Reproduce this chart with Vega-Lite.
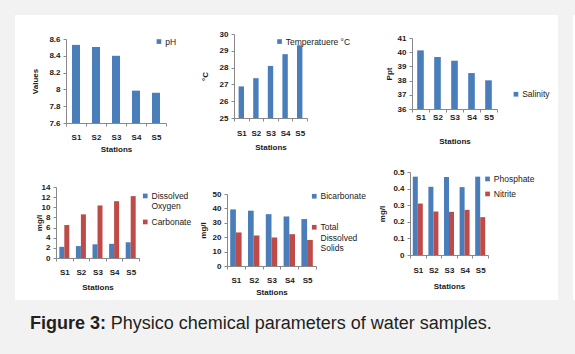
{
  "$schema": "https://vega.github.io/schema/vega-lite/v6.json",
  "padding": 0,
  "background": "white",
  "datasets": {
    "d": [
      {"panel": 1, "station": "S1", "param": "pH", "value": 8.53},
      {"panel": 1, "station": "S2", "param": "pH", "value": 8.505},
      {"panel": 1, "station": "S3", "param": "pH", "value": 8.40},
      {"panel": 1, "station": "S4", "param": "pH", "value": 7.985},
      {"panel": 1, "station": "S5", "param": "pH", "value": 7.96},
      {"panel": 2, "station": "S1", "param": "Temperatuere °C", "value": 26.88},
      {"panel": 2, "station": "S2", "param": "Temperatuere °C", "value": 27.37},
      {"panel": 2, "station": "S3", "param": "Temperatuere °C", "value": 28.1},
      {"panel": 2, "station": "S4", "param": "Temperatuere °C", "value": 28.8},
      {"panel": 2, "station": "S5", "param": "Temperatuere °C", "value": 29.33},
      {"panel": 3, "station": "S1", "param": "Salinity", "value": 40.13},
      {"panel": 3, "station": "S2", "param": "Salinity", "value": 39.66},
      {"panel": 3, "station": "S3", "param": "Salinity", "value": 39.4},
      {"panel": 3, "station": "S4", "param": "Salinity", "value": 38.53},
      {"panel": 3, "station": "S5", "param": "Salinity", "value": 38.02},
      {"panel": 4, "station": "S1", "param": "Dissolved Oxygen", "value": 2.2},
      {"panel": 4, "station": "S2", "param": "Dissolved Oxygen", "value": 2.35},
      {"panel": 4, "station": "S3", "param": "Dissolved Oxygen", "value": 2.7},
      {"panel": 4, "station": "S4", "param": "Dissolved Oxygen", "value": 2.8},
      {"panel": 4, "station": "S5", "param": "Dissolved Oxygen", "value": 3.1},
      {"panel": 4, "station": "S1", "param": "Carbonate", "value": 6.5},
      {"panel": 4, "station": "S2", "param": "Carbonate", "value": 8.6},
      {"panel": 4, "station": "S3", "param": "Carbonate", "value": 10.36},
      {"panel": 4, "station": "S4", "param": "Carbonate", "value": 11.2},
      {"panel": 4, "station": "S5", "param": "Carbonate", "value": 12.2},
      {"panel": 5, "station": "S1", "param": "Bicarbonate", "value": 39.3},
      {"panel": 5, "station": "S2", "param": "Bicarbonate", "value": 38.4},
      {"panel": 5, "station": "S3", "param": "Bicarbonate", "value": 36.0},
      {"panel": 5, "station": "S4", "param": "Bicarbonate", "value": 34.4},
      {"panel": 5, "station": "S5", "param": "Bicarbonate", "value": 32.6},
      {"panel": 5, "station": "S1", "param": "Total Dissolved Solids", "value": 23.3},
      {"panel": 5, "station": "S2", "param": "Total Dissolved Solids", "value": 21.2},
      {"panel": 5, "station": "S3", "param": "Total Dissolved Solids", "value": 19.8},
      {"panel": 5, "station": "S4", "param": "Total Dissolved Solids", "value": 22.1},
      {"panel": 5, "station": "S5", "param": "Total Dissolved Solids", "value": 18.1},
      {"panel": 6, "station": "S1", "param": "Phosphate", "value": 0.472},
      {"panel": 6, "station": "S2", "param": "Phosphate", "value": 0.411},
      {"panel": 6, "station": "S3", "param": "Phosphate", "value": 0.47},
      {"panel": 6, "station": "S4", "param": "Phosphate", "value": 0.409},
      {"panel": 6, "station": "S5", "param": "Phosphate", "value": 0.472},
      {"panel": 6, "station": "S1", "param": "Nitrite", "value": 0.31},
      {"panel": 6, "station": "S2", "param": "Nitrite", "value": 0.262},
      {"panel": 6, "station": "S3", "param": "Nitrite", "value": 0.26},
      {"panel": 6, "station": "S4", "param": "Nitrite", "value": 0.272},
      {"panel": 6, "station": "S5", "param": "Nitrite", "value": 0.228}
    ]
  },
  "spacing": 0,
  "resolve": {"scale": {"color": "independent", "xOffset": "independent"}, "legend": {"color": "independent"}},
  "vconcat": [
    {"width": 575, "height": 15, "data": {"values": []}, "mark": "point", "view": {"fill": "#f2f2f2"}},
    {
      "spacing": 0,
      "resolve": {"scale": {"color": "independent", "xOffset": "independent"}, "legend": {"color": "independent"}},
      "hconcat": [
        {"width": 15, "height": 285, "data": {"values": []}, "mark": "point", "view": {"fill": "#f2f2f2"}},
        {"width": 16, "height": 1, "data": {"values": []}, "mark": "point"},
        {
          "bounds": "flush",
          "spacing": 0,
          "resolve": {"scale": {"color": "independent", "xOffset": "independent"}, "legend": {"color": "independent"}},
          "vconcat": [
            {"width": 1, "height": 24, "data": {"values": []}, "mark": "point"},
            {
              "width": 110, "height": 84,
              "data": {"name": "d"},
              "transform": [{"filter": "datum.panel == 1"}],
              "mark": {"type": "bar", "width": {"band": 0.4}},
              "encoding": {
                "x": {"field": "station", "type": "nominal", "scale": {"paddingInner": 0, "paddingOuter": 0, "range": [10, 110]}, "axis": {"title": "Stations", "labelPadding": 7, "titlePadding": 4}},
                "y": {"field": "value", "type": "quantitative", "scale": {"domain": [7.6, 8.6], "zero": false, "nice": false}, "axis": {"title": "Values", "offset": -10, "values": [7.6, 7.8, 8, 8.2, 8.4, 8.6], "format": "~r", "titlePadding": 8.9}},
                "y2": {"datum": 7.6},
                "color": {"field": "param", "type": "nominal", "scale": {"range": ["#4a7ebb"]}, "legend": {"legendX": 98.7, "legendY": -1.7}}
              }
            },
            {"width": 1, "height": 64, "data": {"values": []}, "mark": "point"},
            {
              "width": 83, "height": 71,
              "data": {"name": "d"},
              "transform": [{"filter": "datum.panel == 4"}],
              "mark": "bar",
              "encoding": {
                "x": {"field": "station", "type": "nominal", "scale": {"paddingInner": 0, "paddingOuter": 0}, "axis": {"title": "Stations", "labelPadding": 7.3, "titlePadding": 7.4}},
                "xOffset": {"field": "param", "type": "nominal", "sort": ["Dissolved Oxygen", "Carbonate"], "scale": {"paddingInner": 0, "paddingOuter": 0.66}},
                "y": {"field": "value", "type": "quantitative", "scale": {"domain": [0, 14], "nice": false}, "axis": {"title": "mg/l", "values": [0, 2, 4, 6, 8, 10, 12, 14], "format": "~r", "titlePadding": -1.9}},
                "color": {"field": "param", "type": "nominal", "sort": ["Dissolved Oxygen", "Carbonate"], "scale": {"domain": ["Dissolved Oxygen", "Carbonate"], "range": ["#4a7ebb", "#be4b48"]}, "legend": {"legendX": 85, "legendY": 4.7, "labelExpr": "datum.label == 'Dissolved Oxygen' ? ['Dissolved', 'Oxygen'] : datum.label"}}
              }
            }
          ]
        },
        {"width": 7, "height": 1, "data": {"values": []}, "mark": "point"},
        {
          "bounds": "flush",
          "spacing": 0,
          "resolve": {"scale": {"color": "independent", "xOffset": "independent"}, "legend": {"color": "independent"}},
          "vconcat": [
            {"width": 1, "height": 19, "data": {"values": []}, "mark": "point"},
            {
              "width": 80, "height": 84,
              "data": {"name": "d"},
              "transform": [{"filter": "datum.panel == 2"}],
              "mark": {"type": "bar", "width": {"band": 0.37}},
              "encoding": {
                "x": {"field": "station", "type": "nominal", "scale": {"paddingInner": 0, "paddingOuter": 0, "range": [7, 80]}, "axis": {"title": "Stations", "labelPadding": 8, "titlePadding": 6}},
                "y": {"field": "value", "type": "quantitative", "scale": {"domain": [25, 30], "zero": false, "nice": false}, "axis": {"title": "°C", "offset": -7, "values": [25, 26, 27, 28, 29, 30], "format": "~r", "titlePadding": 10.1}},
                "y2": {"datum": 25},
                "color": {"field": "param", "type": "nominal", "scale": {"range": ["#4a7ebb"]}, "legend": {"legendX": 48.3, "legendY": 3.3}}
              }
            },
            {"width": 1, "height": 76, "data": {"values": []}, "mark": "point"},
            {
              "width": 89, "height": 72,
              "data": {"name": "d"},
              "transform": [{"filter": "datum.panel == 5"}],
              "mark": "bar",
              "encoding": {
                "x": {"field": "station", "type": "nominal", "scale": {"paddingInner": 0, "paddingOuter": 0}, "axis": {"title": "Stations", "labelPadding": 7.7, "titlePadding": 3.3}},
                "xOffset": {"field": "param", "type": "nominal", "sort": ["Bicarbonate", "Total Dissolved Solids"], "scale": {"paddingInner": 0, "paddingOuter": 0.56}},
                "y": {"field": "value", "type": "quantitative", "scale": {"domain": [0, 50], "nice": false}, "axis": {"title": "mg/l", "values": [0, 10, 20, 30, 40, 50], "format": "~r", "titlePadding": 5.1}},
                "color": {"field": "param", "type": "nominal", "sort": ["Bicarbonate", "Total Dissolved Solids"], "scale": {"domain": ["Bicarbonate", "Total Dissolved Solids"], "range": ["#4a7ebb", "#be4b48"]}, "legend": {"legendX": 83, "legendY": -2, "rowPadding": 22, "labelExpr": "datum.label == 'Total Dissolved Solids' ? ['Total', 'Dissolved', 'Solids'] : datum.label"}}
              }
            }
          ]
        },
        {"width": 12, "height": 1, "data": {"values": []}, "mark": "point"},
        {
          "bounds": "flush",
          "spacing": 0,
          "resolve": {"scale": {"color": "independent", "xOffset": "independent"}, "legend": {"color": "independent"}},
          "vconcat": [
            {"width": 1, "height": 23, "data": {"values": []}, "mark": "point"},
            {
              "width": 87, "height": 71,
              "data": {"name": "d"},
              "transform": [{"filter": "datum.panel == 3"}],
              "mark": {"type": "bar", "width": {"band": 0.39}},
              "encoding": {
                "x": {"field": "station", "type": "nominal", "scale": {"paddingInner": 0, "paddingOuter": 0, "range": [2, 87]}, "axis": {"title": "Stations", "labelPadding": 1, "titlePadding": 16}},
                "y": {"field": "value", "type": "quantitative", "scale": {"domain": [36, 41], "zero": false, "nice": false}, "axis": {"title": "Ppt", "offset": -2, "values": [36, 37, 38, 39, 40, 41], "format": "~r", "titlePadding": 3.8}},
                "y2": {"datum": 36},
                "color": {"field": "param", "type": "nominal", "scale": {"range": ["#4a7ebb"]}, "legend": {"legendX": 101.7, "legendY": 52}}
              }
            },
            {"width": 1, "height": 63, "data": {"values": []}, "mark": "point"},
            {
              "width": 78, "height": 83,
              "data": {"name": "d"},
              "transform": [{"filter": "datum.panel == 6"}],
              "mark": "bar",
              "encoding": {
                "x": {"field": "station", "type": "nominal", "scale": {"paddingInner": 0, "paddingOuter": 0}, "axis": {"title": "Stations", "labelPadding": 8.3, "titlePadding": 8.4}},
                "xOffset": {"field": "param", "type": "nominal", "sort": ["Phosphate", "Nitrite"], "scale": {"paddingInner": 0, "paddingOuter": 0.56}},
                "y": {"field": "value", "type": "quantitative", "scale": {"domain": [0, 0.5], "nice": false}, "axis": {"title": "mg/l", "values": [0, 0.1, 0.2, 0.3, 0.4, 0.5], "format": "~r", "titlePadding": 6.2}},
                "color": {"field": "param", "type": "nominal", "sort": ["Phosphate", "Nitrite"], "scale": {"domain": ["Phosphate", "Nitrite"], "range": ["#4a7ebb", "#be4b48"]}, "legend": {"legendX": 73.3, "legendY": 2.7}}
              }
            }
          ]
        },
        {"width": 8, "height": 1, "data": {"values": []}, "mark": "point"},
        {"width": 15, "height": 285, "data": {"values": []}, "mark": "point", "view": {"fill": "#f2f2f2"}}
      ]
    },
    {
      "bounds": "flush",
      "spacing": 0,
      "hconcat": [
        {"width": 110, "height": 54, "data": {"values": []}, "mark": "point", "view": {"fill": "#f2f2f2"},
         "title": {"text": "Figure 3:", "fontWeight": "bold", "dx": 30, "offset": -33}},
        {"width": 465, "height": 54, "data": {"values": []}, "mark": "point", "view": {"fill": "#f2f2f2"},
         "title": {"text": "Physico chemical parameters of water samples.", "fontWeight": "normal", "dx": 0.7, "offset": -33}}
      ]
    }
  ],
  "config": {
    "view": {"stroke": null},
    "font": "Liberation Sans",
    "bar": {"color": "#4a7ebb"},
    "axis": {
      "domainColor": "#898989", "tickColor": "#898989", "tickSize": 3, "grid": false,
      "labelFont": "Liberation Sans", "labelFontSize": 8, "labelFontWeight": "bold", "labelColor": "#1a1a1a", "labelPadding": 3,
      "titleFont": "Liberation Sans", "titleFontSize": 8, "titleFontWeight": "bold", "titleColor": "#1a1a1a"
    },
    "axisX": {"labelAngle": 0, "tickBand": "extent"},
    "legend": {
      "orient": "none", "padding": 0, "title": null, "symbolType": "square", "symbolSize": 22, "symbolStrokeWidth": 0,
      "labelFont": "Liberation Sans", "labelFontSize": 8.5, "labelColor": "#1a1a1a", "labelOffset": 2, "rowPadding": 6
    },
    "title": {"anchor": "start", "frame": "group", "orient": "top", "baseline": "alphabetic", "fontSize": 18, "font": "Liberation Sans", "color": "#231f20"}
  }
}
